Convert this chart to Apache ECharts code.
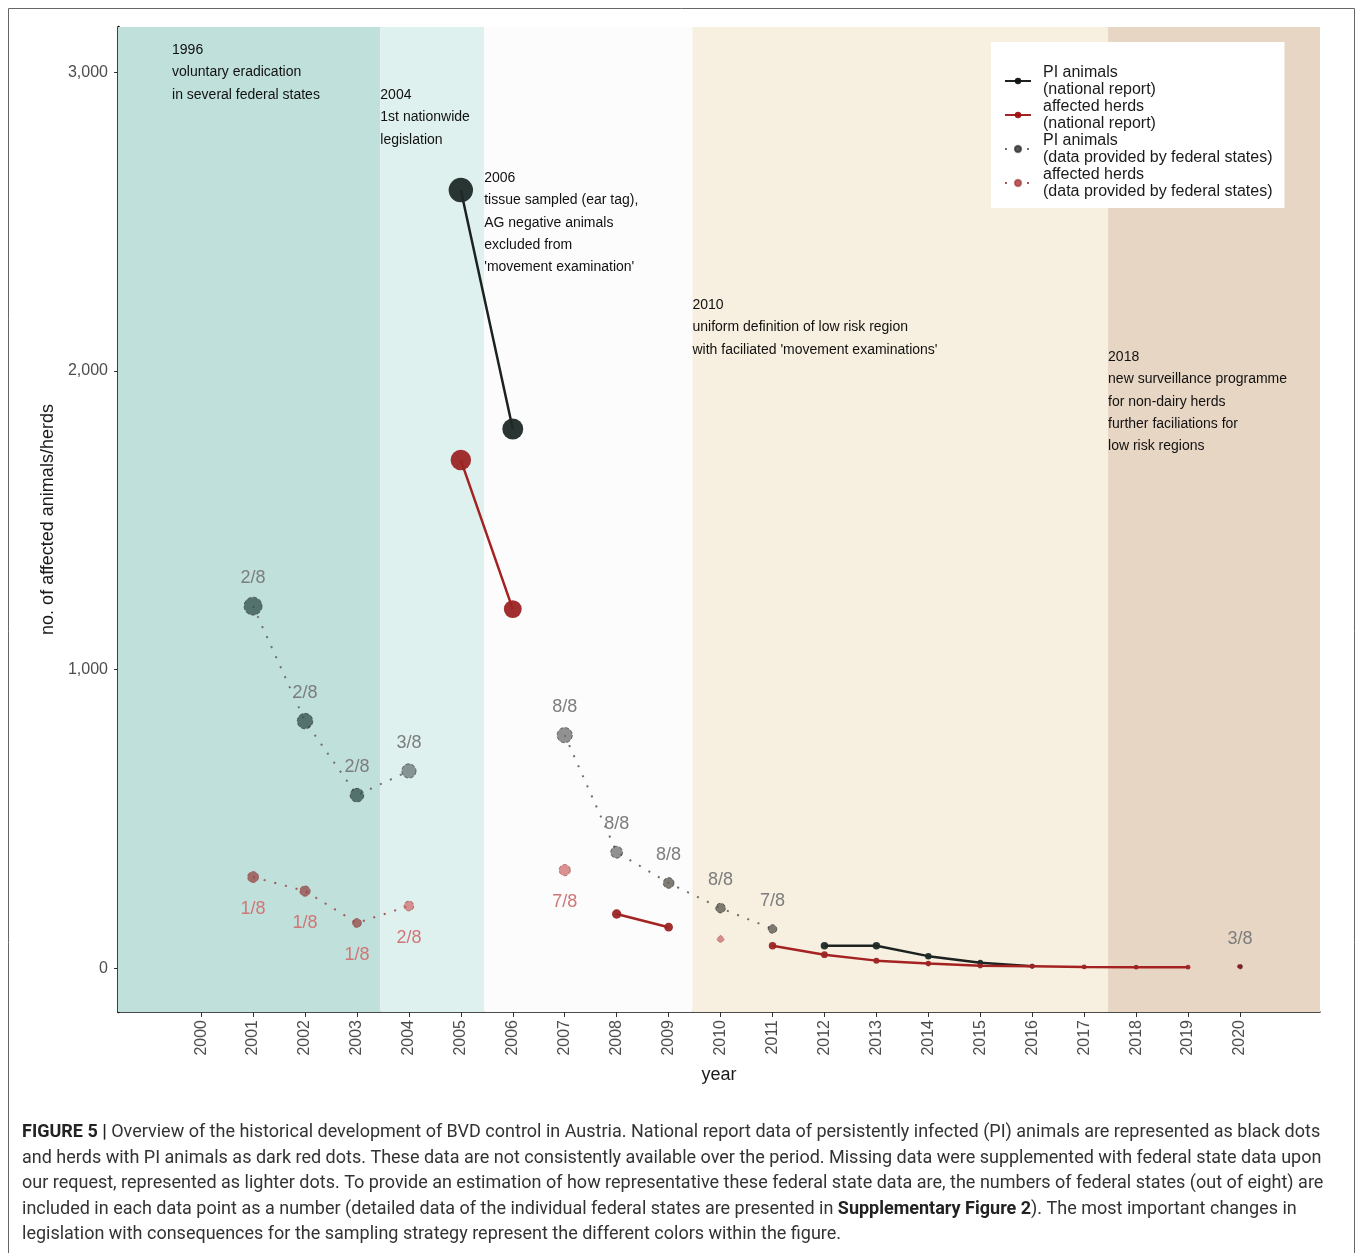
<!DOCTYPE html>
<html>
<head>
<meta charset="utf-8">
<script src="https://cdn.jsdelivr.net/npm/echarts@6/dist/echarts.min.js"></script>
<style>
  html, body { margin: 0; padding: 0; background: #ffffff; }
  #chart { width: 1358px; height: 1253px; }
</style>
</head>
<body>
<div id="chart"></div>
<script>
// Years on the x axis
const years = [2000, 2001, 2002, 2003, 2004, 2005, 2006, 2007, 2008, 2009, 2010,
               2011, 2012, 2013, 2014, 2015, 2016, 2017, 2018, 2019, 2020];

// National report: PI animals and affected herds (null = not reported)
const nationalPI = [null, null, null, null, null, 2605, 1805, null, null, null, null,
                    null, 75, 75, 40, 18, 6, null, null, null, null];
const nationalHerds = [null, null, null, null, null, 1701, 1202, null, 181, 137, null,
                       75, 45, 25, 15, 8, 6, 4, 3, 3, null];

// Data provided by federal states
const federalPI = [null, 1212, 827, 579, 660, null, null, 780, 388, 285, 201,
                   131, null, null, null, null, null, null, null, null, 5];
const federalHerds = [null, 305, 258, 151, 208, null, null, 328, null, null, 97,
                      null, null, null, null, null, null, null, null, null, null];

// Number of federal states (out of eight) behind each federal data point
const federalPILabels = ['', '2/8', '2/8', '2/8', '3/8', '', '', '8/8', '8/8', '8/8', '8/8',
                         '7/8', '', '', '', '', '', '', '', '', '3/8'];
const federalHerdsLabels = ['', '1/8', '1/8', '1/8', '2/8', '', '', '7/8', '', '', '',
                            '', '', '', '', '', '', '', '', '', ''];

// Legislation periods (year boundaries)
const periodEdges = [1998.4, 2003.45, 2005.45, 2009.46, 2017.46, 2021.54];

// Legislation notes
const noteYears = ['1996', '2004', '2006', '2010', '2018'];
const noteTexts = [
  ['voluntary eradication', 'in several federal states'],
  ['1st nationwide', 'legislation'],
  ['tissue sampled (ear tag),', 'AG negative animals', 'excluded from', "'movement examination'"],
  ['uniform definition of low risk region', "with faciliated 'movement examinations'"],
  ['new surveillance programme', 'for non-dairy herds', 'further faciliations for', 'low risk regions']
];

const yTicks = [0, 1000, 2000, 3000];

const seriesNames = [
  'PI animals\n(national report)',
  'affected herds\n(national report)',
  'PI animals\n(data provided by federal states)',
  'affected herds\n(data provided by federal states)'
];

const bandColors = ['#c0e0db', '#dff1ee', '#fcfcfc', '#f7efdf', '#e8d6c4'];
const FONT = "'Liberation Sans', Arial, sans-serif";

function pairs(arr) { return years.map((y, i) => [y, arr[i]]); }
function dotSize(v) { return 4 + 0.4 * Math.sqrt(Math.max(v[1], 0)); }

const chart = echarts.init(document.getElementById('chart'), null, { renderer: 'canvas' });

const bands = [];
for (let i = 0; i < bandColors.length; i++) {
  bands.push([{ xAxis: periodEdges[i], itemStyle: { color: bandColors[i] } }, { xAxis: periodEdges[i + 1] }]);
}

function fedPIColor(p) {
  const yr = years[p.dataIndex];
  if (yr === 2020) return '#8e1c1c';
  if (yr <= 2003) return 'rgba(48,78,72,0.75)';
  if (yr === 2004) return 'rgba(95,110,108,0.7)';
  if (yr <= 2008) return 'rgba(110,110,110,0.75)';
  return 'rgba(95,92,82,0.8)';
}
function fedHerdColor(p) {
  const yr = years[p.dataIndex];
  if (yr <= 2003) return 'rgba(150,70,70,0.75)';
  return 'rgba(205,110,110,0.75)';
}

const option = {
  animation: false,
  backgroundColor: '#ffffff',
  grid: { left: 118, right: 38, top: 27, bottom: 241 },
  legend: {
    orient: 'vertical',
    left: 991,
    top: 42,
    backgroundColor: '#ffffff',
    padding: [22, 12, 8, 13],
    itemGap: 0,
    itemWidth: 26,
    itemHeight: 8,
    data: [
      { name: seriesNames[0], itemStyle: { color: '#111' } },
      { name: seriesNames[1], itemStyle: { color: '#9c1010' } },
      { name: seriesNames[2], itemStyle: { color: '#555' } },
      { name: seriesNames[3], itemStyle: { color: '#c05a5a' } }
    ],
    textStyle: { fontFamily: FONT, fontSize: 16, lineHeight: 17, color: '#1a1a1a', padding: [0, 0, 0, 7] }
  },
  xAxis: {
    type: 'value',
    min: periodEdges[0],
    max: periodEdges[periodEdges.length - 1],
    name: 'year',
    nameLocation: 'middle',
    nameGap: 54,
    nameTextStyle: { fontFamily: FONT, fontSize: 18, color: '#1a1a1a' },
    axisLine: { onZero: false, lineStyle: { color: '#111', width: 1.5 } },
    axisTick: { customValues: years, length: 5, lineStyle: { color: '#333' } },
    axisLabel: {
      customValues: years, rotate: 90, margin: 8,
      fontFamily: FONT, fontSize: 16, color: '#4d4d4d',
      formatter: v => String(v)
    },
    splitLine: { show: false }
  },
  yAxis: {
    type: 'value',
    min: -147,
    max: 3151,
    name: 'no. of affected animals/herds',
    nameLocation: 'middle',
    nameGap: 54,
    nameTextStyle: { fontFamily: FONT, fontSize: 18, color: '#1a1a1a' },
    axisLine: { show: true, onZero: false, lineStyle: { color: '#000', width: 2.5 } },
    axisTick: { show: true, customValues: yTicks, length: 4, lineStyle: { color: '#333' } },
    axisLabel: {
      customValues: yTicks, margin: 10,
      fontFamily: FONT, fontSize: 16, color: '#4d4d4d',
      formatter: v => v.toLocaleString('en-US')
    },
    splitLine: { show: false }
  },
  series: [
    {
      name: 'periods', type: 'line', data: [], silent: true, z: 0,
      markArea: { silent: true, data: bands }
    },
    {
      name: seriesNames[0], type: 'line', z: 3,
      data: pairs(nationalPI), connectNulls: false,
      symbol: 'circle', symbolSize: dotSize,
      itemStyle: { color: '#1f2a28', opacity: 0.95 },
      lineStyle: { color: '#1c2220', width: 2.5 }
    },
    {
      name: seriesNames[1], type: 'line', z: 4,
      data: pairs(nationalHerds), connectNulls: false,
      symbol: 'circle', symbolSize: dotSize,
      itemStyle: { color: '#9c2424', opacity: 0.95 },
      lineStyle: { color: '#a52222', width: 2.5 }
    },
    {
      name: seriesNames[2], type: 'line', z: 5,
      data: pairs(federalPI), connectNulls: false,
      symbol: 'circle', symbolSize: dotSize,
      itemStyle: { color: fedPIColor, borderColor: 'rgba(40,40,40,0.6)', borderWidth: 1, borderType: 'dashed' },
      lineStyle: { color: '#6f6f6f', width: 2, type: [2, 9] },
      label: {
        show: true, position: 'inside', offset: [0, -28],
        fontFamily: FONT, fontSize: 18, color: '#7d7d7d',
        formatter: p => federalPILabels[p.dataIndex]
      }
    },
    {
      name: seriesNames[3], type: 'line', z: 5,
      data: pairs(federalHerds), connectNulls: false,
      symbol: (v, p) => (years[p.dataIndex] === 2010 ? 'diamond' : 'circle'),
      symbolSize: dotSize,
      itemStyle: { color: fedHerdColor, borderColor: 'rgba(150,60,60,0.6)', borderWidth: 1, borderType: 'dashed' },
      lineStyle: { color: '#a35858', width: 2, type: [2, 9] },
      label: {
        show: true, position: 'inside', offset: [0, 32],
        fontFamily: FONT, fontSize: 18, color: '#cf7777',
        formatter: p => federalHerdsLabels[p.dataIndex]
      }
    }
  ]
};

chart.setOption(option);

// Legislation notes anchored at their period boundaries
const noteAnchors = [[1999.44, 3074], [periodEdges[1], 2923], [periodEdges[2], 2645], [periodEdges[3], 2220], [periodEdges[4], 2046]];
const graphics = [];
noteAnchors.forEach((a, i) => {
  const px = chart.convertToPixel({ gridIndex: 0 }, a);
  graphics.push({
    type: 'text', x: px[0], y: px[1] - 11, z: 10, silent: true,
    style: {
      text: [noteYears[i]].concat(noteTexts[i]).join('\n'),
      fontFamily: FONT, fontSize: 14, lineHeight: 22.3, fill: '#111'
    }
  });
});

// Figure frame
graphics.push({
  type: 'rect', z: 20, silent: true,
  shape: { x: 8.5, y: 8.5, width: 1346, height: 1270 },
  style: { fill: 'none', stroke: '#666', lineWidth: 1 }
});

// Caption
const CAP = "Roboto, 'Liberation Sans', Arial, sans-serif";
graphics.push({
  type: 'text', x: 22, y: 1120, z: 10, silent: true,
  style: {
    text: '{b|FIGURE 5 |}{n| Overview of the historical development of BVD control in Austria. National report data of persistently infected (PI) animals are represented as black dots}\n' +
          '{n|and herds with PI animals as dark red dots. These data are not consistently available over the period. Missing data were supplemented with federal state data upon}\n' +
          '{n|our request, represented as lighter dots. To provide an estimation of how representative these federal state data are, the numbers of federal states (out of eight) are}\n' +
          '{n|included in each data point as a number (detailed data of the individual federal states are presented in }{b|Supplementary Figure 2}{n|). The most important changes in}\n' +
          '{n|legislation with consequences for the sampling strategy represent the different colors within the figure.}',
    rich: {
      n: { fontFamily: CAP, fontSize: 18, lineHeight: 25.5, fill: '#333' },
      b: { fontFamily: CAP, fontSize: 18, lineHeight: 25.5, fontWeight: 'bold', fill: '#222' }
    }
  }
});

chart.setOption({ graphic: graphics });
</script>
</body>
</html>
